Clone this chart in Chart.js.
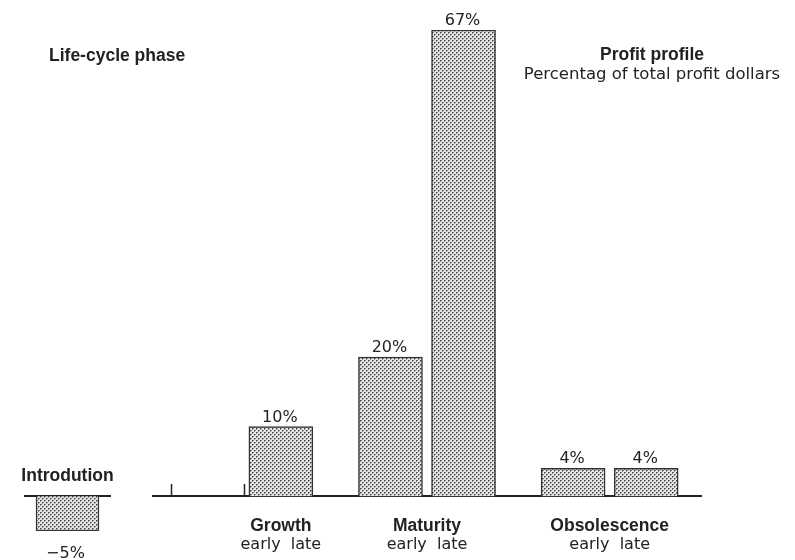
<!DOCTYPE html>
<html>
<head>
<meta charset="utf-8">
<script src="https://cdn.jsdelivr.net/npm/chart.js@4/dist/chart.umd.min.js"></script>
<style>
    html, body { margin: 0; padding: 0; background: #fff; }
    #wrap { position: relative; width: 795px; height: 560px; overflow: hidden; }
    #wrap canvas { position: absolute; top: 0; left: 0; }
    .note { position: absolute; color: #222; line-height: 20px; white-space: nowrap; }
    .bold { font-family: "Liberation Sans", Arial, sans-serif; font-weight: bold; font-size: 17.5px; }
    .reg { font-family: "DejaVu Sans", sans-serif; font-size: 16.5px; }
</style>
</head>
<body>
<div id="wrap">
    <canvas id="chart-main" width="795" height="560"></canvas>
    <canvas id="chart-intro" width="140" height="560"></canvas>
    <div class="note bold" style="left:49px; top:45px;">Life-cycle phase</div>
    <div class="note" style="left:500px; top:44px; width:304px; text-align:center;">
        <div class="bold">Profit profile</div>
        <div class="reg">Percentag of total profit dollars</div>
    </div>
</div>
<script>
// introduction phase (drawn apart, below the line)
const introLabels = ['Introdution'];
const introProfit = [-5];

// main axis, in half-step slots
const slots = ['Introduction early', '', 'Introduction late', 'Growth', '', '',
    'Maturity early', '', 'Maturity late', '', '', 'Obsolescence early', '', 'Obsolescence late', ''];
const profit = [null, null, null, 10, null, null, 20, null, 67, null, null, 4, null, 4, null];
const phaseNames = ['', '', '', 'Growth', '', '', '', 'Maturity', '', '', '', '', 'Obsolescence', '', ''];
const stageNames = ['', '', '', 'early  late', '', '', '', 'early  late', '', '', '', '', 'early  late', '', ''];
const tickMarks = ['Introduction early', 'Introduction late'];

const Y_MIN = -5, Y_MAX = 67;
const INK = '#222';
const boldFont = { family: '"Liberation Sans", Arial, sans-serif', size: 17.5, weight: 'bold' };
const regFont = { family: '"DejaVu Sans", sans-serif', size: 16 };

// halftone dots like the printed screen
function dotPattern() {
    const c = document.createElement('canvas');
    c.width = 4; c.height = 4;
    const g = c.getContext('2d');
    g.fillStyle = '#e6e6e6';
    g.fillRect(0, 0, 4, 4);
    g.fillStyle = '#8a8a8a';
    g.fillRect(1, 0, 1, 1); g.fillRect(0, 1, 1, 1);
    g.fillRect(3, 2, 1, 1); g.fillRect(2, 3, 1, 1);
    g.fillStyle = '#404040';
    g.fillRect(0, 0, 1, 1); g.fillRect(2, 2, 1, 1);
    return g.createPattern(c, 'repeat');
}
const fill = dotPattern();

const barLabels = {
    id: 'barLabels',
    afterDatasetsDraw(chart) {
        const ctx = chart.ctx;
        const meta = chart.getDatasetMeta(0);
        const values = chart.data.datasets[0].data;
        ctx.save();
        ctx.font = '16px "DejaVu Sans", sans-serif';
        ctx.fillStyle = INK;
        ctx.textAlign = 'center';
        ctx.textBaseline = 'alphabetic';
        meta.data.forEach((bar, i) => {
            const v = values[i];
            if(v === null || v === undefined) return;
            if(v >= 0) ctx.fillText(v + '%', bar.x - 1, bar.y - 5);
            else ctx.fillText('\u2212' + Math.abs(v) + '%', bar.x - 2, bar.y + 27);
        });
        ctx.restore();
    }
};

const yScale = { display: false, min: Y_MIN, max: Y_MAX };
const pad = { top: 30, bottom: 29 };

new Chart(document.getElementById('chart-main'), {
    type: 'bar',
    data: {
        labels: phaseNames,
        datasets: [{
            label: 'Profit',
            data: profit,
            backgroundColor: fill,
            borderColor: '#333',
            borderWidth: 1.5,
            barThickness: 64
        }]
    },
    options: {
        responsive: false,
        animation: false,
        events: [],
        layout: { padding: { top: pad.top, bottom: pad.bottom, left: 153, right: 94 } },
        plugins: { legend: { display: false }, tooltip: { enabled: false } },
        scales: {
            y: yScale,
            x: {
                position: { y: 0 },
                offset: true,
                border: { display: true, color: INK, width: 2 },
                grid: {
                    display: true,
                    offset: false,
                    drawOnChartArea: false,
                    drawTicks: true,
                    tickLength: -13,
                    tickWidth: 1.5,
                    tickColor: c => tickMarks.includes(slots[c.index]) ? INK : 'rgba(0,0,0,0)'
                },
                ticks: { autoSkip: false, maxRotation: 0, minRotation: 0, padding: 32, color: INK, font: boldFont }
            },
            x2: {
                type: 'category',
                labels: stageNames,
                position: { y: 0 },
                offset: true,
                border: { display: false },
                grid: { display: false, drawTicks: false },
                ticks: { autoSkip: false, maxRotation: 0, minRotation: 0, padding: 39, color: INK, font: regFont }
            }
        }
    },
    plugins: [barLabels]
});

new Chart(document.getElementById('chart-intro'), {
    type: 'bar',
    data: {
        labels: introLabels,
        datasets: [{
            label: 'Profit',
            data: introProfit,
            backgroundColor: fill,
            borderColor: '#333',
            borderWidth: 1.5,
            barThickness: 63
        }]
    },
    options: {
        responsive: false,
        animation: false,
        events: [],
        layout: { padding: { top: pad.top, bottom: pad.bottom, left: 25, right: 30 } },
        plugins: { legend: { display: false }, tooltip: { enabled: false } },
        scales: {
            y: yScale,
            x: {
                position: { y: 0 },
                offset: true,
                border: { display: true, color: INK, width: 2 },
                grid: { display: false, drawTicks: false },
                ticks: { autoSkip: false, maxRotation: 0, padding: -30.5, color: INK, font: boldFont }
            }
        }
    },
    plugins: [barLabels]
});
</script>
</body>
</html>
